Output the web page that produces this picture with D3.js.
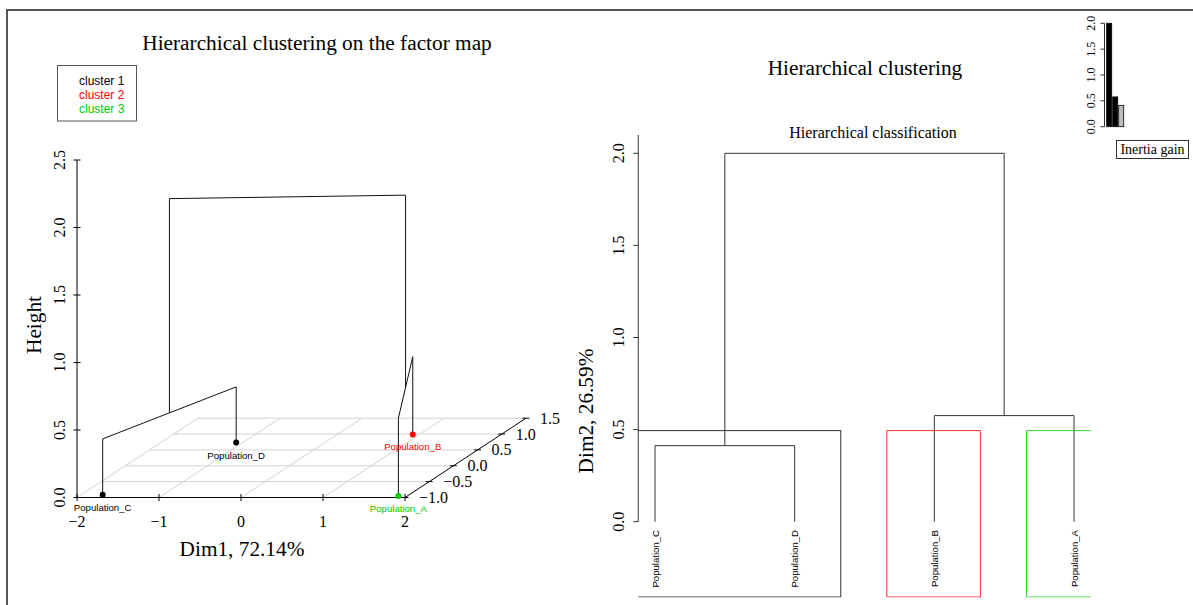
<!DOCTYPE html>
<html><head><meta charset="utf-8">
<script src="https://cdn.jsdelivr.net/npm/d3@7"></script>
<style>body{margin:0;background:#fff}svg{display:block}</style>
</head><body>
<svg id="c" width="1193" height="605"></svg>
<script>
// ---------- data ----------
const popNames   = ["Population_A", "Population_B", "Population_C", "Population_D"];
const dim1Coord  = [1.89, 0.92, -1.74, -1.08];
const dim2Coord  = [-0.95, 0.99, -0.91, 0.73];
const popCluster = [3, 2, 1, 1];
const clusterNames  = ["cluster 1", "cluster 2", "cluster 3"];
const clusterColors = ["#000000", "#ff0000", "#00cd00"];
// hclust-style merge matrix (negative = leaf index, positive = merge step)
const mergeFirst  = [-3, -2, 1];
const mergeSecond = [-4, -1, 2];
const mergeHeight = [0.413, 0.576, 2.0];
const leafOrder   = [3, 4, 2, 1];           // C, D, B, A
const inertiaGain = [2.0, 0.576, 0.413];
const dim1Ticks    = [-2, -1, 0, 1, 2];
const heightTicks  = [0, 0.5, 1, 1.5, 2, 2.5];
const dim2Ticks    = [-1, -0.5, 0, 0.5, 1, 1.5];
const dendroTicks  = [0, 0.5, 1, 1.5, 2];
const inertiaTicks = [0, 0.5, 1, 1.5, 2];
const nClusters = 3;

const SERIF = "'Liberation Serif','Times New Roman',serif";
const SANS  = "'Liberation Sans',Arial,sans-serif";
const fmt1 = v => d3.format(".1f")(v).replace("-", "\u2212");
const fmt0 = v => d3.format("d")(v).replace("-", "\u2212");

const svg = d3.select("#c");

// outer frame
svg.append("path").attr("d", "M7,606V10H1194").attr("fill", "none")
  .attr("stroke", "#555").attr("stroke-width", 2);

// ---------- left: 3D factor map ----------
const x3 = d3.scaleLinear().domain([-2, 2]).range([77, 405]);
const z3 = d3.scaleLinear().domain([0, 2.5]).range([497.5, 160]);
const dX = d3.scaleLinear().domain([-1, 1.5]).range([0, 121]);
const dY = d3.scaleLinear().domain([-1, 1.5]).range([0, -79.3]);
const P = (x, d, z) => [x3(x) + dX(d), z3(z) + dY(d)];
const dMin = dim2Ticks[0], dMax = dim2Ticks[dim2Ticks.length - 1];
const xMin = dim1Ticks[0], xMax = dim1Ticks[dim1Ticks.length - 1];

const left = svg.append("g");
const seg = (g, a, b, col, w) => g.append("line")
  .attr("x1", a[0]).attr("y1", a[1]).attr("x2", b[0]).attr("y2", b[1])
  .attr("stroke", col).attr("stroke-width", w || 1);

// floor grid
const grid = left.append("g");
dim2Ticks.slice(1).forEach(d => seg(grid, P(xMin, d, 0), P(xMax, d, 0), "#d3d3d3"));
dim1Ticks.slice(0, -1).forEach(x => seg(grid, P(x, dMin, 0), P(x, dMax, 0), "#d3d3d3"));

// axes
const ax = left.append("g");
seg(ax, P(xMin, dMin, 0), P(xMax, dMin, 0), "#000");
seg(ax, P(xMin, dMin, 0), P(xMin, dMin, 2.5), "#000");
seg(ax, P(xMax, dMin, 0), P(xMax, dMax, 0), "#000");
dim1Ticks.forEach(x => {
  const p = P(x, dMin, 0);
  seg(ax, [p[0], p[1] - 3.5], [p[0], p[1] + 3.5], "#000");
  ax.append("text").attr("x", p[0]).attr("y", 526.5).attr("text-anchor", "middle")
    .attr("font-family", SERIF).attr("font-size", 16).text(fmt0(x));
});
heightTicks.forEach(z => {
  const p = P(xMin, dMin, z);
  seg(ax, [p[0] - 3.5, p[1]], [p[0] + 3.5, p[1]], "#000");
  ax.append("text").attr("transform", `translate(65,${p[1]}) rotate(-90)`)
    .attr("text-anchor", "middle").attr("font-family", SERIF).attr("font-size", 16)
    .text(fmt1(z));
});
dim2Ticks.forEach(d => {
  const p = P(xMax, d, 0);
  seg(ax, [p[0] - 3.5, p[1]], [p[0] + 3.5, p[1]], "#000");
  ax.append("text").attr("x", p[0] + 14).attr("y", p[1] + 5.5)
    .attr("font-family", SERIF).attr("font-size", 16).text(fmt1(d));
});

// 3D tree
const nodes3 = {};
popNames.forEach((n, i) => nodes3[-(i + 1)] = { x: dim1Coord[i], d: dim2Coord[i], h: 0 });
const tree = left.append("g");
mergeHeight.forEach((h, k) => {
  const a = nodes3[mergeFirst[k]], b = nodes3[mergeSecond[k]];
  seg(tree, P(a.x, a.d, a.h), P(a.x, a.d, h), "#111");
  seg(tree, P(b.x, b.d, b.h), P(b.x, b.d, h), "#111");
  seg(tree, P(a.x, a.d, h), P(b.x, b.d, h), "#111");
  nodes3[k + 1] = { x: (a.x + b.x) / 2, d: (a.d + b.d) / 2, h: h };
});
popNames.forEach((n, i) => {
  const p = P(dim1Coord[i], dim2Coord[i], 0);
  const col = clusterColors[popCluster[i] - 1];
  left.append("circle").attr("cx", p[0]).attr("cy", p[1]).attr("r", 3).attr("fill", col);
  left.append("text").attr("x", p[0]).attr("y", p[1] + 16).attr("text-anchor", "middle")
    .attr("font-family", SANS).attr("font-size", 9.6).attr("fill", col).text(n);
});

// titles / labels
left.append("text").attr("x", 317).attr("y", 50).attr("text-anchor", "middle")
  .attr("font-family", SERIF).attr("font-size", 21.3).text("Hierarchical clustering on the factor map");
left.append("text").attr("x", 242).attr("y", 556).attr("text-anchor", "middle")
  .attr("font-family", SERIF).attr("font-size", 21.3).text("Dim1, 72.14%");
left.append("text").attr("transform", "translate(41,325) rotate(-90)").attr("text-anchor", "middle")
  .attr("font-family", SERIF).attr("font-size", 21.3).text("Height");
left.append("text").attr("transform", "translate(593,411) rotate(-90)").attr("text-anchor", "middle")
  .attr("font-family", SERIF).attr("font-size", 21.3).text("Dim2, 26.59%");

// legend
left.append("rect").attr("x", 57.5).attr("y", 65.5).attr("width", 79).attr("height", 55.5)
  .attr("fill", "none").attr("stroke", "#555");
clusterNames.forEach((c, i) => left.append("text").attr("x", 79).attr("y", 85 + i * 14.2)
  .attr("font-family", SANS).attr("font-size", 12).attr("fill", clusterColors[i]).text(c));

// ---------- right: dendrogram ----------
const right = svg.append("g");
const hS = d3.scaleLinear().domain([0, 2]).range([521.7, 153.3]);
const lS = d3.scaleLinear().domain([1, 4]).range([655, 1074]);
const plotL = lS(0.88), plotR = lS(4.12), plotB = 597;

right.append("text").attr("x", 865).attr("y", 75).attr("text-anchor", "middle")
  .attr("font-family", SERIF).attr("font-size", 21.3).text("Hierarchical clustering");
right.append("text").attr("x", 873).attr("y", 138).attr("text-anchor", "middle")
  .attr("font-family", SERIF).attr("font-size", 16).text("Hierarchical classification");

// y axis
seg(right, [plotL, 135], [plotL, hS(0)], "#333");
dendroTicks.forEach(t => {
  seg(right, [plotL - 5, hS(t)], [plotL, hS(t)], "#333");
  right.append("text").attr("transform", `translate(624,${hS(t)}) rotate(-90)`)
    .attr("text-anchor", "middle").attr("font-family", SERIF).attr("font-size", 16).text(fmt1(t));
});

// dendrogram
const nodesD = {};
leafOrder.forEach((li, pos) => nodesD[-li] = { x: lS(pos + 1), h: 0 });
mergeHeight.forEach((h, k) => {
  const a = nodesD[mergeFirst[k]], b = nodesD[mergeSecond[k]];
  right.append("path").attr("fill", "none").attr("stroke", "#333")
    .attr("d", `M${a.x},${hS(a.h)}V${hS(h)}H${b.x}V${hS(b.h)}`);
  nodesD[k + 1] = { x: (a.x + b.x) / 2, h: h };
});
leafOrder.forEach((li, pos) => {
  right.append("text").attr("transform", `translate(${lS(pos + 1) + 3.5},530) rotate(-90)`)
    .attr("text-anchor", "end").attr("font-family", SANS).attr("font-size", 9.6)
    .text(popNames[li - 1]);
});

// cluster rectangles (rect.hclust style)
const sortedH = mergeHeight.slice().sort((a, b) => b - a);
const cutH = (sortedH[nClusters - 2] + sortedH[nClusters - 1]) / 2;
const clip = svg.append("clipPath").attr("id", "pr").append("rect")
  .attr("x", plotL).attr("y", 0).attr("width", plotR - plotL).attr("height", plotB + 0.5);
const boxes = right.append("g").attr("clip-path", "url(#pr)");
let start = 0;
clusterNames.forEach((c, ci) => {
  const count = leafOrder.filter(li => popCluster[li - 1] === ci + 1).length;
  const x1 = lS(start + 0.66), x2 = lS(start + count + 0.33);
  boxes.append("rect").attr("x", x1).attr("y", hS(cutH)).attr("width", x2 - x1)
    .attr("height", plotB - hS(cutH)).attr("fill", "none")
    .attr("stroke", ci === 0 ? "#333" : clusterColors[ci]).attr("stroke-opacity", ci === 0 ? 1 : 0.8);
  start += count;
});

// inertia gain inset
const inset = svg.append("g");
const iy = d3.scaleLinear().domain([0, 2]).range([126.7, 23.3]);
const ib = d3.scaleBand().domain(d3.range(inertiaGain.length)).range([1106.7, 1123.7]).paddingInner(1 / 6);
seg(inset, [1104.5, iy(0)], [1104.5, iy(2)], "#333");
inertiaTicks.forEach(t => {
  seg(inset, [1100.5, iy(t)], [1104.5, iy(t)], "#333");
  inset.append("text").attr("transform", `translate(1095,${iy(t)}) rotate(-90)`)
    .attr("text-anchor", "middle").attr("font-family", SERIF).attr("font-size", 12).text(fmt1(t));
});
inertiaGain.forEach((g, i) => inset.append("rect")
  .attr("x", ib(i)).attr("y", iy(g)).attr("width", ib.bandwidth()).attr("height", iy(0) - iy(g))
  .attr("fill", i < nClusters - 1 ? "#000" : "#bebebe").attr("stroke", "#000").attr("stroke-width", 0.8));
inset.append("rect").attr("x", 1116.5).attr("y", 140.5).attr("width", 72).attr("height", 18)
  .attr("fill", "#fff").attr("stroke", "#333");
inset.append("text").attr("x", 1152.5).attr("y", 154).attr("text-anchor", "middle")
  .attr("font-family", SERIF).attr("font-size", 14).text("Inertia gain");
</script>
</body></html>
